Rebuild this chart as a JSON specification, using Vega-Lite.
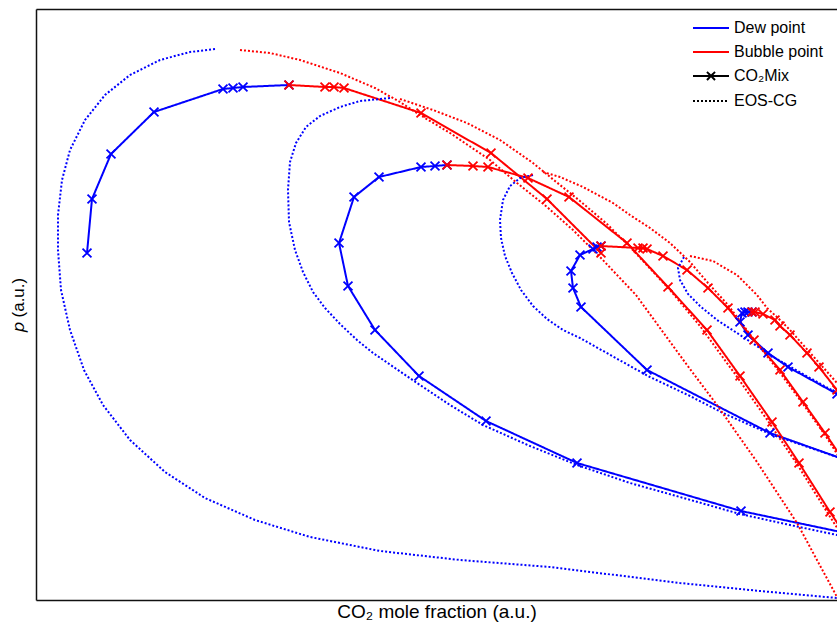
{
  "$schema": "https://vega.github.io/schema/vega-lite/v6.json",
  "autosize": "none",
  "width": 801,
  "height": 591,
  "padding": {"left": 36, "top": 9, "right": 0, "bottom": 30},
  "background": "white",
  "config": {
    "view": {"stroke": null},
    "font": "Liberation Sans",
    "axis": {"grid": false, "ticks": false, "labels": false, "domain": true, "domainColor": "#111", "domainWidth": 1.5,
             "titleFont": "Liberation Sans", "titleFontWeight": "normal", "titleFontSize": 17, "titleColor": "black"}
  },
  "data": {"values": [
    {"s":"L1D","t":"Dew point","m":"CO2Mix","i":1,"x":87,"y":347},
    {"s":"L1D","t":"Dew point","m":"CO2Mix","i":2,"x":92,"y":401},
    {"s":"L1D","t":"Dew point","m":"CO2Mix","i":3,"x":111,"y":446},
    {"s":"L1D","t":"Dew point","m":"CO2Mix","i":4,"x":154,"y":488},
    {"s":"L1D","t":"Dew point","m":"CO2Mix","i":5,"x":223,"y":511},
    {"s":"L1D","t":"Dew point","m":"CO2Mix","i":6,"x":233,"y":512},
    {"s":"L1D","t":"Dew point","m":"CO2Mix","i":7,"x":243,"y":513},
    {"s":"L1D","t":"Dew point","m":"CO2Mix","i":8,"x":289,"y":515},
    {"s":"L2D","t":"Dew point","m":"CO2Mix","i":1,"x":860,"y":64},
    {"s":"L2D","t":"Dew point","m":"CO2Mix","i":2,"x":741,"y":89},
    {"s":"L2D","t":"Dew point","m":"CO2Mix","i":3,"x":577,"y":137},
    {"s":"L2D","t":"Dew point","m":"CO2Mix","i":4,"x":486,"y":179},
    {"s":"L2D","t":"Dew point","m":"CO2Mix","i":5,"x":419,"y":224},
    {"s":"L2D","t":"Dew point","m":"CO2Mix","i":6,"x":375,"y":270},
    {"s":"L2D","t":"Dew point","m":"CO2Mix","i":7,"x":348,"y":314},
    {"s":"L2D","t":"Dew point","m":"CO2Mix","i":8,"x":339,"y":357},
    {"s":"L2D","t":"Dew point","m":"CO2Mix","i":9,"x":354,"y":403},
    {"s":"L2D","t":"Dew point","m":"CO2Mix","i":10,"x":379,"y":423},
    {"s":"L2D","t":"Dew point","m":"CO2Mix","i":11,"x":421,"y":433},
    {"s":"L2D","t":"Dew point","m":"CO2Mix","i":12,"x":435,"y":434},
    {"s":"L2D","t":"Dew point","m":"CO2Mix","i":13,"x":447,"y":435},
    {"s":"L3D","t":"Dew point","m":"CO2Mix","i":1,"x":860,"y":135},
    {"s":"L3D","t":"Dew point","m":"CO2Mix","i":2,"x":770,"y":167},
    {"s":"L3D","t":"Dew point","m":"CO2Mix","i":3,"x":647,"y":230},
    {"s":"L3D","t":"Dew point","m":"CO2Mix","i":4,"x":581,"y":293},
    {"s":"L3D","t":"Dew point","m":"CO2Mix","i":5,"x":573,"y":312},
    {"s":"L3D","t":"Dew point","m":"CO2Mix","i":6,"x":571,"y":329},
    {"s":"L3D","t":"Dew point","m":"CO2Mix","i":7,"x":580,"y":345},
    {"s":"L3D","t":"Dew point","m":"CO2Mix","i":8,"x":593,"y":351},
    {"s":"L3D","t":"Dew point","m":"CO2Mix","i":9,"x":597,"y":353},
    {"s":"L3D","t":"Dew point","m":"CO2Mix","i":10,"x":601,"y":354},
    {"s":"L4D","t":"Dew point","m":"CO2Mix","i":1,"x":860,"y":195},
    {"s":"L4D","t":"Dew point","m":"CO2Mix","i":2,"x":837,"y":206},
    {"s":"L4D","t":"Dew point","m":"CO2Mix","i":3,"x":788,"y":233},
    {"s":"L4D","t":"Dew point","m":"CO2Mix","i":4,"x":768,"y":247},
    {"s":"L4D","t":"Dew point","m":"CO2Mix","i":5,"x":748,"y":265},
    {"s":"L4D","t":"Dew point","m":"CO2Mix","i":6,"x":740,"y":278},
    {"s":"L4D","t":"Dew point","m":"CO2Mix","i":7,"x":742,"y":287},
    {"s":"L4D","t":"Dew point","m":"CO2Mix","i":8,"x":745,"y":288},
    {"s":"L4D","t":"Dew point","m":"CO2Mix","i":9,"x":748,"y":288},
    {"s":"L4D","t":"Dew point","m":"CO2Mix","i":10,"x":752,"y":288},
    {"s":"L1B","t":"Bubble point","m":"CO2Mix","i":1,"x":289,"y":515},
    {"s":"L1B","t":"Bubble point","m":"CO2Mix","i":2,"x":325,"y":513},
    {"s":"L1B","t":"Bubble point","m":"CO2Mix","i":3,"x":334,"y":513},
    {"s":"L1B","t":"Bubble point","m":"CO2Mix","i":4,"x":344,"y":512},
    {"s":"L1B","t":"Bubble point","m":"CO2Mix","i":5,"x":421,"y":487},
    {"s":"L1B","t":"Bubble point","m":"CO2Mix","i":6,"x":491,"y":447},
    {"s":"L1B","t":"Bubble point","m":"CO2Mix","i":7,"x":547,"y":401},
    {"s":"L1B","t":"Bubble point","m":"CO2Mix","i":8,"x":601,"y":347},
    {"s":"L2B","t":"Bubble point","m":"CO2Mix","i":1,"x":447,"y":435},
    {"s":"L2B","t":"Bubble point","m":"CO2Mix","i":2,"x":473,"y":434},
    {"s":"L2B","t":"Bubble point","m":"CO2Mix","i":3,"x":488,"y":433},
    {"s":"L2B","t":"Bubble point","m":"CO2Mix","i":4,"x":528,"y":422},
    {"s":"L2B","t":"Bubble point","m":"CO2Mix","i":5,"x":569,"y":403},
    {"s":"L2B","t":"Bubble point","m":"CO2Mix","i":6,"x":627,"y":357},
    {"s":"L2B","t":"Bubble point","m":"CO2Mix","i":7,"x":668,"y":313},
    {"s":"L2B","t":"Bubble point","m":"CO2Mix","i":8,"x":707,"y":270},
    {"s":"L2B","t":"Bubble point","m":"CO2Mix","i":9,"x":740,"y":224},
    {"s":"L2B","t":"Bubble point","m":"CO2Mix","i":10,"x":772,"y":178},
    {"s":"L2B","t":"Bubble point","m":"CO2Mix","i":11,"x":799,"y":137},
    {"s":"L2B","t":"Bubble point","m":"CO2Mix","i":12,"x":830,"y":88},
    {"s":"L2B","t":"Bubble point","m":"CO2Mix","i":13,"x":850,"y":58},
    {"s":"L3B","t":"Bubble point","m":"CO2Mix","i":1,"x":601,"y":354},
    {"s":"L3B","t":"Bubble point","m":"CO2Mix","i":2,"x":638,"y":352},
    {"s":"L3B","t":"Bubble point","m":"CO2Mix","i":3,"x":643,"y":352},
    {"s":"L3B","t":"Bubble point","m":"CO2Mix","i":4,"x":647,"y":351},
    {"s":"L3B","t":"Bubble point","m":"CO2Mix","i":5,"x":663,"y":344},
    {"s":"L3B","t":"Bubble point","m":"CO2Mix","i":6,"x":687,"y":330},
    {"s":"L3B","t":"Bubble point","m":"CO2Mix","i":7,"x":708,"y":312},
    {"s":"L3B","t":"Bubble point","m":"CO2Mix","i":8,"x":728,"y":292},
    {"s":"L3B","t":"Bubble point","m":"CO2Mix","i":9,"x":754,"y":260},
    {"s":"L3B","t":"Bubble point","m":"CO2Mix","i":10,"x":780,"y":230},
    {"s":"L3B","t":"Bubble point","m":"CO2Mix","i":11,"x":803,"y":198},
    {"s":"L3B","t":"Bubble point","m":"CO2Mix","i":12,"x":825,"y":167},
    {"s":"L3B","t":"Bubble point","m":"CO2Mix","i":13,"x":850,"y":130},
    {"s":"L4B","t":"Bubble point","m":"CO2Mix","i":1,"x":752,"y":288},
    {"s":"L4B","t":"Bubble point","m":"CO2Mix","i":2,"x":755,"y":288},
    {"s":"L4B","t":"Bubble point","m":"CO2Mix","i":3,"x":763,"y":286},
    {"s":"L4B","t":"Bubble point","m":"CO2Mix","i":4,"x":775,"y":280},
    {"s":"L4B","t":"Bubble point","m":"CO2Mix","i":5,"x":780,"y":274},
    {"s":"L4B","t":"Bubble point","m":"CO2Mix","i":6,"x":790,"y":265},
    {"s":"L4B","t":"Bubble point","m":"CO2Mix","i":7,"x":807,"y":247},
    {"s":"L4B","t":"Bubble point","m":"CO2Mix","i":8,"x":819,"y":233},
    {"s":"L4B","t":"Bubble point","m":"CO2Mix","i":9,"x":837,"y":210},
    {"s":"L4B","t":"Bubble point","m":"CO2Mix","i":10,"x":850,"y":192},
    {"s":"E1D","t":"Dew point","m":"EOS-CG","i":1,"x":215,"y":551},
    {"s":"E1D","t":"Dew point","m":"EOS-CG","i":2,"x":190,"y":548},
    {"s":"E1D","t":"Dew point","m":"EOS-CG","i":3,"x":160,"y":540},
    {"s":"E1D","t":"Dew point","m":"EOS-CG","i":4,"x":130,"y":525},
    {"s":"E1D","t":"Dew point","m":"EOS-CG","i":5,"x":105,"y":505},
    {"s":"E1D","t":"Dew point","m":"EOS-CG","i":6,"x":85,"y":480},
    {"s":"E1D","t":"Dew point","m":"EOS-CG","i":7,"x":70,"y":450},
    {"s":"E1D","t":"Dew point","m":"EOS-CG","i":8,"x":62,"y":420},
    {"s":"E1D","t":"Dew point","m":"EOS-CG","i":9,"x":58,"y":385},
    {"s":"E1D","t":"Dew point","m":"EOS-CG","i":10,"x":58,"y":350},
    {"s":"E1D","t":"Dew point","m":"EOS-CG","i":11,"x":61,"y":310},
    {"s":"E1D","t":"Dew point","m":"EOS-CG","i":12,"x":70,"y":270},
    {"s":"E1D","t":"Dew point","m":"EOS-CG","i":13,"x":84,"y":230},
    {"s":"E1D","t":"Dew point","m":"EOS-CG","i":14,"x":103,"y":195},
    {"s":"E1D","t":"Dew point","m":"EOS-CG","i":15,"x":130,"y":160},
    {"s":"E1D","t":"Dew point","m":"EOS-CG","i":16,"x":165,"y":128},
    {"s":"E1D","t":"Dew point","m":"EOS-CG","i":17,"x":205,"y":102},
    {"s":"E1D","t":"Dew point","m":"EOS-CG","i":18,"x":255,"y":80},
    {"s":"E1D","t":"Dew point","m":"EOS-CG","i":19,"x":310,"y":63},
    {"s":"E1D","t":"Dew point","m":"EOS-CG","i":20,"x":380,"y":49},
    {"s":"E1D","t":"Dew point","m":"EOS-CG","i":21,"x":460,"y":40},
    {"s":"E1D","t":"Dew point","m":"EOS-CG","i":22,"x":550,"y":33},
    {"s":"E1D","t":"Dew point","m":"EOS-CG","i":23,"x":680,"y":17},
    {"s":"E1D","t":"Dew point","m":"EOS-CG","i":24,"x":760,"y":9},
    {"s":"E1D","t":"Dew point","m":"EOS-CG","i":25,"x":837,"y":2},
    {"s":"E1D","t":"Dew point","m":"EOS-CG","i":26,"x":860,"y":0},
    {"s":"E2D","t":"Dew point","m":"EOS-CG","i":1,"x":390,"y":502},
    {"s":"E2D","t":"Dew point","m":"EOS-CG","i":2,"x":360,"y":499},
    {"s":"E2D","t":"Dew point","m":"EOS-CG","i":3,"x":340,"y":493},
    {"s":"E2D","t":"Dew point","m":"EOS-CG","i":4,"x":320,"y":484},
    {"s":"E2D","t":"Dew point","m":"EOS-CG","i":5,"x":306,"y":473},
    {"s":"E2D","t":"Dew point","m":"EOS-CG","i":6,"x":296,"y":457},
    {"s":"E2D","t":"Dew point","m":"EOS-CG","i":7,"x":290,"y":438},
    {"s":"E2D","t":"Dew point","m":"EOS-CG","i":8,"x":288,"y":410},
    {"s":"E2D","t":"Dew point","m":"EOS-CG","i":9,"x":289,"y":378},
    {"s":"E2D","t":"Dew point","m":"EOS-CG","i":10,"x":295,"y":350},
    {"s":"E2D","t":"Dew point","m":"EOS-CG","i":11,"x":303,"y":328},
    {"s":"E2D","t":"Dew point","m":"EOS-CG","i":12,"x":313,"y":308},
    {"s":"E2D","t":"Dew point","m":"EOS-CG","i":13,"x":325,"y":292},
    {"s":"E2D","t":"Dew point","m":"EOS-CG","i":14,"x":340,"y":276},
    {"s":"E2D","t":"Dew point","m":"EOS-CG","i":15,"x":357,"y":260},
    {"s":"E2D","t":"Dew point","m":"EOS-CG","i":16,"x":373,"y":247},
    {"s":"E2D","t":"Dew point","m":"EOS-CG","i":17,"x":395,"y":232},
    {"s":"E2D","t":"Dew point","m":"EOS-CG","i":18,"x":417,"y":217},
    {"s":"E2D","t":"Dew point","m":"EOS-CG","i":19,"x":450,"y":195},
    {"s":"E2D","t":"Dew point","m":"EOS-CG","i":20,"x":483,"y":175},
    {"s":"E2D","t":"Dew point","m":"EOS-CG","i":21,"x":530,"y":154},
    {"s":"E2D","t":"Dew point","m":"EOS-CG","i":22,"x":577,"y":135},
    {"s":"E2D","t":"Dew point","m":"EOS-CG","i":23,"x":630,"y":117},
    {"s":"E2D","t":"Dew point","m":"EOS-CG","i":24,"x":680,"y":103},
    {"s":"E2D","t":"Dew point","m":"EOS-CG","i":25,"x":740,"y":86},
    {"s":"E2D","t":"Dew point","m":"EOS-CG","i":26,"x":790,"y":75},
    {"s":"E2D","t":"Dew point","m":"EOS-CG","i":27,"x":837,"y":65},
    {"s":"E2D","t":"Dew point","m":"EOS-CG","i":28,"x":860,"y":60},
    {"s":"E3D","t":"Dew point","m":"EOS-CG","i":1,"x":533,"y":425},
    {"s":"E3D","t":"Dew point","m":"EOS-CG","i":2,"x":520,"y":422},
    {"s":"E3D","t":"Dew point","m":"EOS-CG","i":3,"x":510,"y":414},
    {"s":"E3D","t":"Dew point","m":"EOS-CG","i":4,"x":503,"y":400},
    {"s":"E3D","t":"Dew point","m":"EOS-CG","i":5,"x":500,"y":380},
    {"s":"E3D","t":"Dew point","m":"EOS-CG","i":6,"x":501,"y":362},
    {"s":"E3D","t":"Dew point","m":"EOS-CG","i":7,"x":505,"y":344},
    {"s":"E3D","t":"Dew point","m":"EOS-CG","i":8,"x":512,"y":327},
    {"s":"E3D","t":"Dew point","m":"EOS-CG","i":9,"x":521,"y":310},
    {"s":"E3D","t":"Dew point","m":"EOS-CG","i":10,"x":533,"y":294},
    {"s":"E3D","t":"Dew point","m":"EOS-CG","i":11,"x":547,"y":281},
    {"s":"E3D","t":"Dew point","m":"EOS-CG","i":12,"x":563,"y":270},
    {"s":"E3D","t":"Dew point","m":"EOS-CG","i":13,"x":580,"y":262},
    {"s":"E3D","t":"Dew point","m":"EOS-CG","i":14,"x":605,"y":248},
    {"s":"E3D","t":"Dew point","m":"EOS-CG","i":15,"x":630,"y":234},
    {"s":"E3D","t":"Dew point","m":"EOS-CG","i":16,"x":650,"y":223},
    {"s":"E3D","t":"Dew point","m":"EOS-CG","i":17,"x":690,"y":204},
    {"s":"E3D","t":"Dew point","m":"EOS-CG","i":18,"x":723,"y":187},
    {"s":"E3D","t":"Dew point","m":"EOS-CG","i":19,"x":770,"y":166},
    {"s":"E3D","t":"Dew point","m":"EOS-CG","i":20,"x":805,"y":154},
    {"s":"E3D","t":"Dew point","m":"EOS-CG","i":21,"x":837,"y":143},
    {"s":"E3D","t":"Dew point","m":"EOS-CG","i":22,"x":860,"y":135},
    {"s":"E4D","t":"Dew point","m":"EOS-CG","i":1,"x":684,"y":343},
    {"s":"E4D","t":"Dew point","m":"EOS-CG","i":2,"x":678,"y":332},
    {"s":"E4D","t":"Dew point","m":"EOS-CG","i":3,"x":680,"y":320},
    {"s":"E4D","t":"Dew point","m":"EOS-CG","i":4,"x":688,"y":306},
    {"s":"E4D","t":"Dew point","m":"EOS-CG","i":5,"x":700,"y":294},
    {"s":"E4D","t":"Dew point","m":"EOS-CG","i":6,"x":717,"y":280},
    {"s":"E4D","t":"Dew point","m":"EOS-CG","i":7,"x":737,"y":267},
    {"s":"E4D","t":"Dew point","m":"EOS-CG","i":8,"x":775,"y":242},
    {"s":"E4D","t":"Dew point","m":"EOS-CG","i":9,"x":810,"y":222},
    {"s":"E4D","t":"Dew point","m":"EOS-CG","i":10,"x":837,"y":207},
    {"s":"E4D","t":"Dew point","m":"EOS-CG","i":11,"x":860,"y":195},
    {"s":"E1B","t":"Bubble point","m":"EOS-CG","i":1,"x":240,"y":550},
    {"s":"E1B","t":"Bubble point","m":"EOS-CG","i":2,"x":270,"y":547},
    {"s":"E1B","t":"Bubble point","m":"EOS-CG","i":3,"x":300,"y":540},
    {"s":"E1B","t":"Bubble point","m":"EOS-CG","i":4,"x":340,"y":527},
    {"s":"E1B","t":"Bubble point","m":"EOS-CG","i":5,"x":375,"y":512},
    {"s":"E1B","t":"Bubble point","m":"EOS-CG","i":6,"x":400,"y":498},
    {"s":"E1B","t":"Bubble point","m":"EOS-CG","i":7,"x":420,"y":485},
    {"s":"E1B","t":"Bubble point","m":"EOS-CG","i":8,"x":450,"y":467},
    {"s":"E1B","t":"Bubble point","m":"EOS-CG","i":9,"x":490,"y":440},
    {"s":"E1B","t":"Bubble point","m":"EOS-CG","i":10,"x":517,"y":417},
    {"s":"E1B","t":"Bubble point","m":"EOS-CG","i":11,"x":547,"y":393},
    {"s":"E1B","t":"Bubble point","m":"EOS-CG","i":12,"x":573,"y":370},
    {"s":"E1B","t":"Bubble point","m":"EOS-CG","i":13,"x":600,"y":343},
    {"s":"E1B","t":"Bubble point","m":"EOS-CG","i":14,"x":636,"y":305},
    {"s":"E1B","t":"Bubble point","m":"EOS-CG","i":15,"x":660,"y":272},
    {"s":"E1B","t":"Bubble point","m":"EOS-CG","i":16,"x":687,"y":235},
    {"s":"E1B","t":"Bubble point","m":"EOS-CG","i":17,"x":717,"y":195},
    {"s":"E1B","t":"Bubble point","m":"EOS-CG","i":18,"x":757,"y":138},
    {"s":"E1B","t":"Bubble point","m":"EOS-CG","i":19,"x":797,"y":77},
    {"s":"E1B","t":"Bubble point","m":"EOS-CG","i":20,"x":837,"y":3},
    {"s":"E1B","t":"Bubble point","m":"EOS-CG","i":21,"x":845,"y":-12},
    {"s":"E2B","t":"Bubble point","m":"EOS-CG","i":1,"x":400,"y":501},
    {"s":"E2B","t":"Bubble point","m":"EOS-CG","i":2,"x":433,"y":490},
    {"s":"E2B","t":"Bubble point","m":"EOS-CG","i":3,"x":467,"y":477},
    {"s":"E2B","t":"Bubble point","m":"EOS-CG","i":4,"x":500,"y":460},
    {"s":"E2B","t":"Bubble point","m":"EOS-CG","i":5,"x":533,"y":437},
    {"s":"E2B","t":"Bubble point","m":"EOS-CG","i":6,"x":555,"y":419},
    {"s":"E2B","t":"Bubble point","m":"EOS-CG","i":7,"x":580,"y":399},
    {"s":"E2B","t":"Bubble point","m":"EOS-CG","i":8,"x":607,"y":376},
    {"s":"E2B","t":"Bubble point","m":"EOS-CG","i":9,"x":630,"y":353},
    {"s":"E2B","t":"Bubble point","m":"EOS-CG","i":10,"x":670,"y":310},
    {"s":"E2B","t":"Bubble point","m":"EOS-CG","i":11,"x":700,"y":274},
    {"s":"E2B","t":"Bubble point","m":"EOS-CG","i":12,"x":735,"y":226},
    {"s":"E2B","t":"Bubble point","m":"EOS-CG","i":13,"x":768,"y":179},
    {"s":"E2B","t":"Bubble point","m":"EOS-CG","i":14,"x":797,"y":136},
    {"s":"E2B","t":"Bubble point","m":"EOS-CG","i":15,"x":827,"y":88},
    {"s":"E2B","t":"Bubble point","m":"EOS-CG","i":16,"x":850,"y":52},
    {"s":"E3B","t":"Bubble point","m":"EOS-CG","i":1,"x":543,"y":428},
    {"s":"E3B","t":"Bubble point","m":"EOS-CG","i":2,"x":560,"y":423},
    {"s":"E3B","t":"Bubble point","m":"EOS-CG","i":3,"x":583,"y":413},
    {"s":"E3B","t":"Bubble point","m":"EOS-CG","i":4,"x":613,"y":397},
    {"s":"E3B","t":"Bubble point","m":"EOS-CG","i":5,"x":630,"y":385},
    {"s":"E3B","t":"Bubble point","m":"EOS-CG","i":6,"x":650,"y":372},
    {"s":"E3B","t":"Bubble point","m":"EOS-CG","i":7,"x":670,"y":357},
    {"s":"E3B","t":"Bubble point","m":"EOS-CG","i":8,"x":690,"y":338},
    {"s":"E3B","t":"Bubble point","m":"EOS-CG","i":9,"x":708,"y":317},
    {"s":"E3B","t":"Bubble point","m":"EOS-CG","i":10,"x":728,"y":295},
    {"s":"E3B","t":"Bubble point","m":"EOS-CG","i":11,"x":752,"y":263},
    {"s":"E3B","t":"Bubble point","m":"EOS-CG","i":12,"x":778,"y":230},
    {"s":"E3B","t":"Bubble point","m":"EOS-CG","i":13,"x":803,"y":196},
    {"s":"E3B","t":"Bubble point","m":"EOS-CG","i":14,"x":825,"y":165},
    {"s":"E3B","t":"Bubble point","m":"EOS-CG","i":15,"x":850,"y":126},
    {"s":"E4B","t":"Bubble point","m":"EOS-CG","i":1,"x":690,"y":344},
    {"s":"E4B","t":"Bubble point","m":"EOS-CG","i":2,"x":713,"y":339},
    {"s":"E4B","t":"Bubble point","m":"EOS-CG","i":3,"x":737,"y":325},
    {"s":"E4B","t":"Bubble point","m":"EOS-CG","i":4,"x":757,"y":305},
    {"s":"E4B","t":"Bubble point","m":"EOS-CG","i":5,"x":767,"y":292},
    {"s":"E4B","t":"Bubble point","m":"EOS-CG","i":6,"x":778,"y":282},
    {"s":"E4B","t":"Bubble point","m":"EOS-CG","i":7,"x":790,"y":270},
    {"s":"E4B","t":"Bubble point","m":"EOS-CG","i":8,"x":813,"y":244},
    {"s":"E4B","t":"Bubble point","m":"EOS-CG","i":9,"x":837,"y":217},
    {"s":"E4B","t":"Bubble point","m":"EOS-CG","i":10,"x":850,"y":202}
  ]},
  "layer": [
    {
      "mark": {"type": "line", "clip": true, "strokeWidth": 2, "interpolate": "linear"},
      "encoding": {
        "x": {"field": "x", "type": "quantitative", "scale": {"domain": [36, 837], "nice": false, "zero": false},
              "axis": {"orient": "bottom", "title": "CO₂ mole fraction (a.u.)", "titlePadding": 2, "titleFontSize": 19}},
        "y": {"field": "y", "type": "quantitative", "scale": {"domain": [0, 591], "nice": false, "zero": false},
              "axis": {"orient": "left", "title": "𝑝 (a.u.)", "titlePadding": 9}},
        "color": {"field": "t", "type": "nominal",
                  "scale": {"domain": ["Dew point", "Bubble point", "CO₂Mix", "EOS-CG"], "range": ["#0000ff", "#ff0000", "#000000", "#000000"]},
                  "legend": {"orient": "none", "legendX": 665, "legendY": 9, "title": null, "padding": 0,
                             "symbolType": "M-2,0L2,0", "symbolSize": 324, "symbolStrokeWidth": 2,
                             "labelFont": "Liberation Sans", "labelFontSize": 16, "labelColor": "black", "labelOffset": 13,
                             "rowPadding": 6,
                             "encode": {"symbols": {"update": {
                               "shape": {"signal": "datum.value === 'CO₂Mix' ? 'M-2,0L2,0M-0.45,-0.45L0.45,0.45M0.45,-0.45L-0.45,0.45' : 'M-2,0L2,0'"},
                               "strokeDash": {"signal": "datum.value === 'EOS-CG' ? [2,2] : [1,0]"},
                               "fill": {"value": "transparent"}}}}}},
        "strokeDash": {"field": "m", "type": "nominal", "scale": {"domain": ["CO2Mix", "EOS-CG"], "range": [[1, 0], [2, 2]]}, "legend": null},
        "detail": {"field": "s"},
        "order": {"field": "i", "type": "quantitative"}
      }
    },
    {
      "transform": [{"filter": "datum.m === 'CO2Mix'"}],
      "mark": {"type": "point", "clip": true, "filled": false, "strokeWidth": 1.8, "size": 80, "opacity": 1,
               "shape": "M-1,-1L1,1M1,-1L-1,1"},
      "encoding": {
        "x": {"field": "x", "type": "quantitative", "axis": {"orient": "top", "title": null}},
        "y": {"field": "y", "type": "quantitative"},
        "color": {"field": "t", "type": "nominal"}
      }
    }
  ],
  "resolve": {"axis": {"x": "independent"}}
}
